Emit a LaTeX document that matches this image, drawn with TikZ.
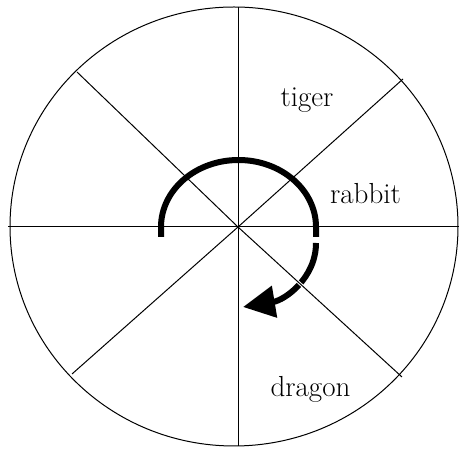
\documentclass[tikz,border=0pt]{standalone}
\usepackage{tikz}
\usetikzlibrary{arrows.meta,calc}

\begin{document}
\begin{tikzpicture}[x=1pt,y=1pt,
    spoke/.style={line width=1pt},
    turn/.style={line width=6pt},
    animal/.style={anchor=base,inner sep=0pt,font=\fontsize{29}{33}\selectfont}]
    \useasboundingbox (0,0) rectangle (459,449);

    % Centre and spoke ends
    \coordinate (o) at (238,222);
    \coordinate (n) at (238,442);
    \coordinate (s) at (238,3);
    \coordinate (w) at (8,222);
    \coordinate (e) at (459,222);
    \coordinate (nw) at (77,377);
    \coordinate (ne) at (403,370);
    \coordinate (sw) at (72,75);
    \coordinate (se) at (402,72);

    % Turning arrow
    \draw[turn] (161,212) -- (161,222)
        arc[start angle=180,end angle=0,x radius=77.5,y radius=67] -- (316,212);
    \draw[turn,-{Triangle[length=32pt,width=31pt]}]
        (316,206) .. controls (316,171) and (285,149) .. (243,142);
    \draw[white,line width=3pt] ($(o)!0.34!(se)$) -- ($(o)!0.42!(se)$);

    % Wheel
    \draw[spoke] (234,222.5) ellipse[x radius=224,y radius=219.5];
    \draw[spoke] (n) -- (s);
    \draw[spoke] (w) -- (e);
    \draw[spoke] (nw) -- (o) -- (se);
    \draw[spoke] (ne) -- (o) -- (sw);

    % Labels
    \node[animal] (tiger) at (307,342) {tiger};
    \node[animal] (rabbit) at (365.5,245) {rabbit};
    \node[animal] (dragon) at (310.5,52) {dragon};
\end{tikzpicture}
\end{document}
